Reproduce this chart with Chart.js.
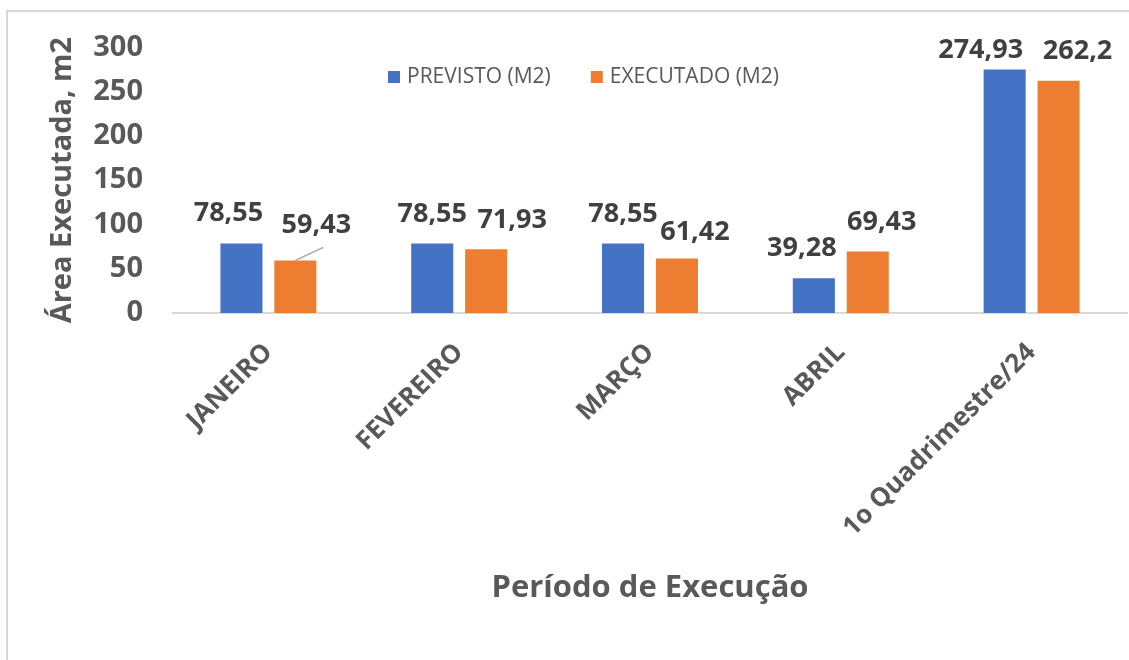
<!DOCTYPE html>
<html>
<head>
<meta charset="utf-8">
<script src="https://cdn.jsdelivr.net/npm/chart.js@4.4.1/dist/chart.umd.min.js"></script>
<style>
  html, body { margin: 0; padding: 0; background: #fff; }
  #wrap { width: 1129px; height: 660px; position: relative; }
</style>
</head>
<body>
<div id="wrap"><canvas id="chart_area"></canvas></div>
<script>
const periodos = ['JANEIRO', 'FEVEREIRO', 'MARÇO', 'ABRIL', '1o Quadrimestre/24'];
const previsto = [78.55, 78.55, 78.55, 39.28, 274.93];
const executado = [59.43, 71.93, 61.42, 69.43, 262.2];
const yTicks = [0, 50, 100, 150, 200, 250, 300];

// label nudges (dx, dy above bar top), Excel moved some of them
const labelNudge = [
    [[-13, 30], [0, 29], [0, 29], [-12, 30], [-24, 19]],
    [[21, 35], [26, 29], [18, 26], [14, 29], [19, 30]]
];

const FONT = "'Open Sans', 'DejaVu Sans', sans-serif";
const fmt = v => String(v).replace('.', ',');

const chartFrame = {
    id: 'chartFrame',
    beforeDraw(chart) {
        const ctx = chart.ctx;
        ctx.save();
        ctx.strokeStyle = '#d9d9d9';
        ctx.lineWidth = 2;
        ctx.beginPath();
        ctx.moveTo(7, chart.height);
        ctx.lineTo(7, 11);
        ctx.lineTo(chart.width, 11);
        ctx.stroke();
        ctx.restore();
    }
};

const dataLabels = {
    id: 'dataLabels',
    afterDatasetsDraw(chart) {
        const ctx = chart.ctx;
        ctx.save();
        ctx.font = 'bold 27px ' + FONT;
        ctx.fillStyle = '#404040';
        ctx.textAlign = 'center';
        ctx.textBaseline = 'middle';
        chart.data.datasets.forEach((ds, di) => {
            chart.getDatasetMeta(di).data.forEach((bar, i) => {
                const [dx, dy] = labelNudge[di][i];
                ctx.fillText(fmt(ds.data[i]), bar.x + dx, bar.y - dy);
            });
        });
        // leader line for the moved JANEIRO label
        const b = chart.getDatasetMeta(1).data[0];
        ctx.strokeStyle = '#a6a6a6';
        ctx.lineWidth = 1.5;
        ctx.beginPath();
        ctx.moveTo(b.x, b.y);
        ctx.lineTo(b.x + 28, b.y - 13);
        ctx.stroke();
        ctx.restore();
    }
};

const insideLegend = {
    id: 'insideLegend',
    afterDraw(chart) {
        const ctx = chart.ctx;
        ctx.save();
        ctx.font = '21px ' + FONT;
        ctx.textBaseline = 'middle';
        ctx.textAlign = 'left';
        let x = 388;
        const y = 77;
        chart.data.datasets.forEach(ds => {
            ctx.fillStyle = ds.backgroundColor;
            ctx.fillRect(x, y - 6, 12, 12);
            ctx.fillStyle = '#595959';
            ctx.fillText(ds.label, x + 19, y);
            x += 19 + ctx.measureText(ds.label).width + 40;
        });
        ctx.restore();
    }
};

new Chart(document.getElementById('chart_area'), {
    type: 'bar',
    data: {
        labels: periodos,
        datasets: [
            { label: 'PREVISTO (M2)', data: previsto, backgroundColor: '#4472C4',
              categoryPercentage: 0.565, barPercentage: 0.78 },
            { label: 'EXECUTADO (M2)', data: executado, backgroundColor: '#ED7D31',
              categoryPercentage: 0.565, barPercentage: 0.78 }
        ]
    },
    options: {
        responsive: true,
        maintainAspectRatio: false,
        animation: false,
        layout: { padding: { top: 43, left: 0, right: 2, bottom: 0 } },
        scales: {
            x: {
                grid: { display: false, drawTicks: false },
                border: { display: true, color: '#d9d9d9', width: 2 },
                ticks: {
                    minRotation: 45,
                    maxRotation: 45,
                    padding: 24,
                    color: '#595959',
                    font: { family: FONT, size: 26, weight: 'bold' }
                },
                title: {
                    display: true,
                    text: 'Período de Execução',
                    color: '#595959',
                    font: { family: FONT, size: 31, weight: 'bold', lineHeight: 1.2 },
                    padding: { top: 0, bottom: 53 }
                },
                afterFit: s => { s.height = 347; }
            },
            y: {
                min: 0,
                max: 300,
                afterBuildTicks: s => { s.ticks = yTicks.map(v => ({ value: v })); },
                grid: { display: false, drawTicks: false },
                border: { display: false },
                ticks: {
                    padding: 30,
                    color: '#595959',
                    font: { family: FONT, size: 29, weight: 'bold' }
                },
                title: {
                    display: true,
                    text: 'Área Executada, m2',
                    color: '#595959',
                    font: { family: FONT, size: 29, weight: 'bold', lineHeight: 1.2 },
                    padding: { top: 45, bottom: 0 }
                },
                afterFit: s => { s.width = 173; }
            }
        },
        plugins: {
            legend: { display: false },
            tooltip: { enabled: false }
        }
    },
    plugins: [chartFrame, dataLabels, insideLegend]
});
</script>
</body>
</html>
